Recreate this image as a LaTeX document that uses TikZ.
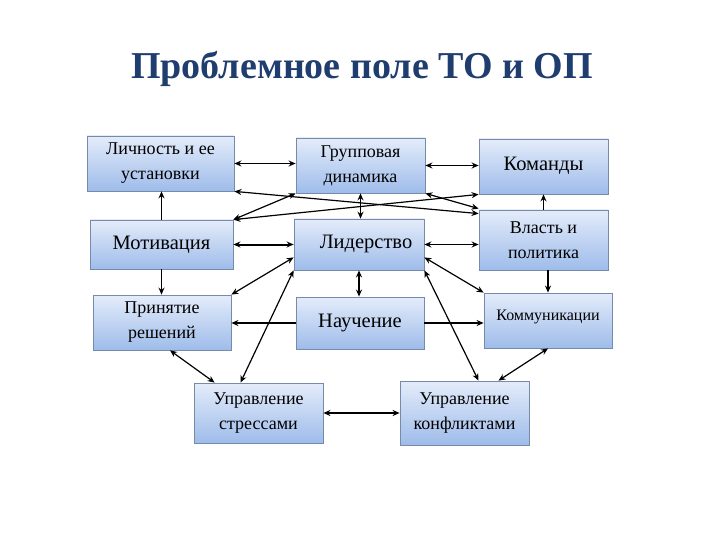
\documentclass[tikz,border=0pt]{standalone}
\usepackage{fontspec}
\setmainfont{Liberation Serif}
\usepackage{xcolor}
\usetikzlibrary{arrows.meta, positioning, calc}

\definecolor{titleblue}{RGB}{31,61,110}
\definecolor{boxtop}{RGB}{228,236,250}
\definecolor{boxbot}{RGB}{158,188,234}
\definecolor{boxline}{RGB}{118,138,170}

\begin{document}
\begin{tikzpicture}[
  x=1pt, y=-1pt,
  box/.style={rectangle, draw=boxline, line width=0.8pt, top color=boxtop, bottom color=boxbot, align=center, inner sep=1pt, font=\fontsize{18}{25}\selectfont},
  big/.style={font=\fontsize{20.5}{25}\selectfont},
  both/.style={{Stealth[length=7pt,width=6pt]}-{Stealth[length=7pt,width=6pt]}, line width=1.2pt},
  oneway/.style={-{Stealth[length=7pt,width=6pt]}, line width=1.2pt},
  heavy/.style={line width=2pt}
]
\useasboundingbox (0,0) rectangle (720,540);

% Title
\node[font=\fontsize{38}{42}\selectfont\bfseries, text=titleblue] (title) at (362,69) {Проблемное поле ТО и ОП};

% Top row
\node[box, minimum width=147pt, minimum height=55pt] (personality) at (160.5,163.5) {Личность и ее\\установки};
\node[box, minimum width=129pt, minimum height=55pt] (group_dyn) at (360.5,165.5) {Групповая\\динамика};
\node[box, big, minimum width=129pt, minimum height=55pt] (teams) at (543.5,166.5) {\raisebox{6pt}{Команды}};

% Middle row
\node[box, big, minimum width=143pt, minimum height=49pt] (motivation) at (161.5,244.5) {\raisebox{4pt}{Мотивация}};
\node[box, big, minimum width=130pt, minimum height=51pt] (leadership) at (359,244.5) {\raisebox{6pt}{\hspace{14pt}Лидерство}};
\node[box, minimum width=129pt, minimum height=60pt] (power) at (543.5,240) {Власть и\\политика};

% Lower row
\node[box, minimum width=138pt, minimum height=55pt] (decisions) at (162,322.5) {Принятие\\решений};
\node[box, big, minimum width=128pt, minimum height=52pt] (learning) at (360,323) {\raisebox{5pt}{Научение}};
\node[box, font=\fontsize{16}{20}\selectfont, minimum width=128pt, minimum height=55pt] (communication) at (548,320.5) {\raisebox{10pt}{Коммуникации}};

% Bottom row
\node[box, minimum width=129pt, minimum height=60pt] (stress) at (258.5,413) {Управление\\стрессами};
\node[box, minimum width=129pt, minimum height=64pt] (conflict) at (464.5,413) {Управление\\конфликтами};

% Horizontal links
\draw[both] (personality.east) -- (personality.east -| group_dyn.west);
\draw[both] (group_dyn.east) -- (group_dyn.east -| teams.west);
\draw[both, heavy] (motivation.east) -- (motivation.east -| leadership.west);
\draw[both] (leadership.east) -- (leadership.east -| power.west);
\draw[oneway, heavy] (learning.west) -- (learning.west -| decisions.east);
\draw[oneway, heavy] (learning.east) -- (learning.east -| communication.west);
\draw[both, heavy] (stress.east) -- (stress.east -| conflict.west);

% Vertical links
\draw[oneway] (motivation.north) -- (motivation.north |- personality.south);
\draw[oneway] (motivation.south) -- (motivation.south |- decisions.north);
\draw[both] (group_dyn.south) -- (group_dyn.south |- leadership.north);
\draw[both] (leadership.south) -- (leadership.south |- learning.north);
\draw[oneway] (power.north) -- (teams.south);
\draw[oneway, heavy] (communication.north |- power.south) -- (communication.north);

% Crossing links between top and middle rows
\draw[both] (personality.south east) -- ($(power.north west)+(0,4)$);
\draw[both] (motivation.north east) -- (teams.south west);
\draw[both] (group_dyn.south west) -- (motivation.north east);
\draw[both] (group_dyn.south east) -- ($(power.north west)+(0,-1)$);

% Links from leadership downwards
\draw[both] ($(leadership.south west)+(0,-13)$) -- (decisions.north east);
\draw[both] (leadership.south west) -- ($(stress.north)+(-18,0)$);
\draw[both] ($(leadership.south east)+(0,-13)$) -- (communication.north west);
\draw[both] (leadership.south east) -- ($(conflict.north)+(14,0)$);

% Diagonal links to the bottom row
\draw[both] ($(decisions.south)+(8,0)$) -- ($(stress.north west)+(21,0)$);
\draw[both] (communication.south) -- ($(conflict.north)+(34,0)$);

\end{tikzpicture}
\end{document}
